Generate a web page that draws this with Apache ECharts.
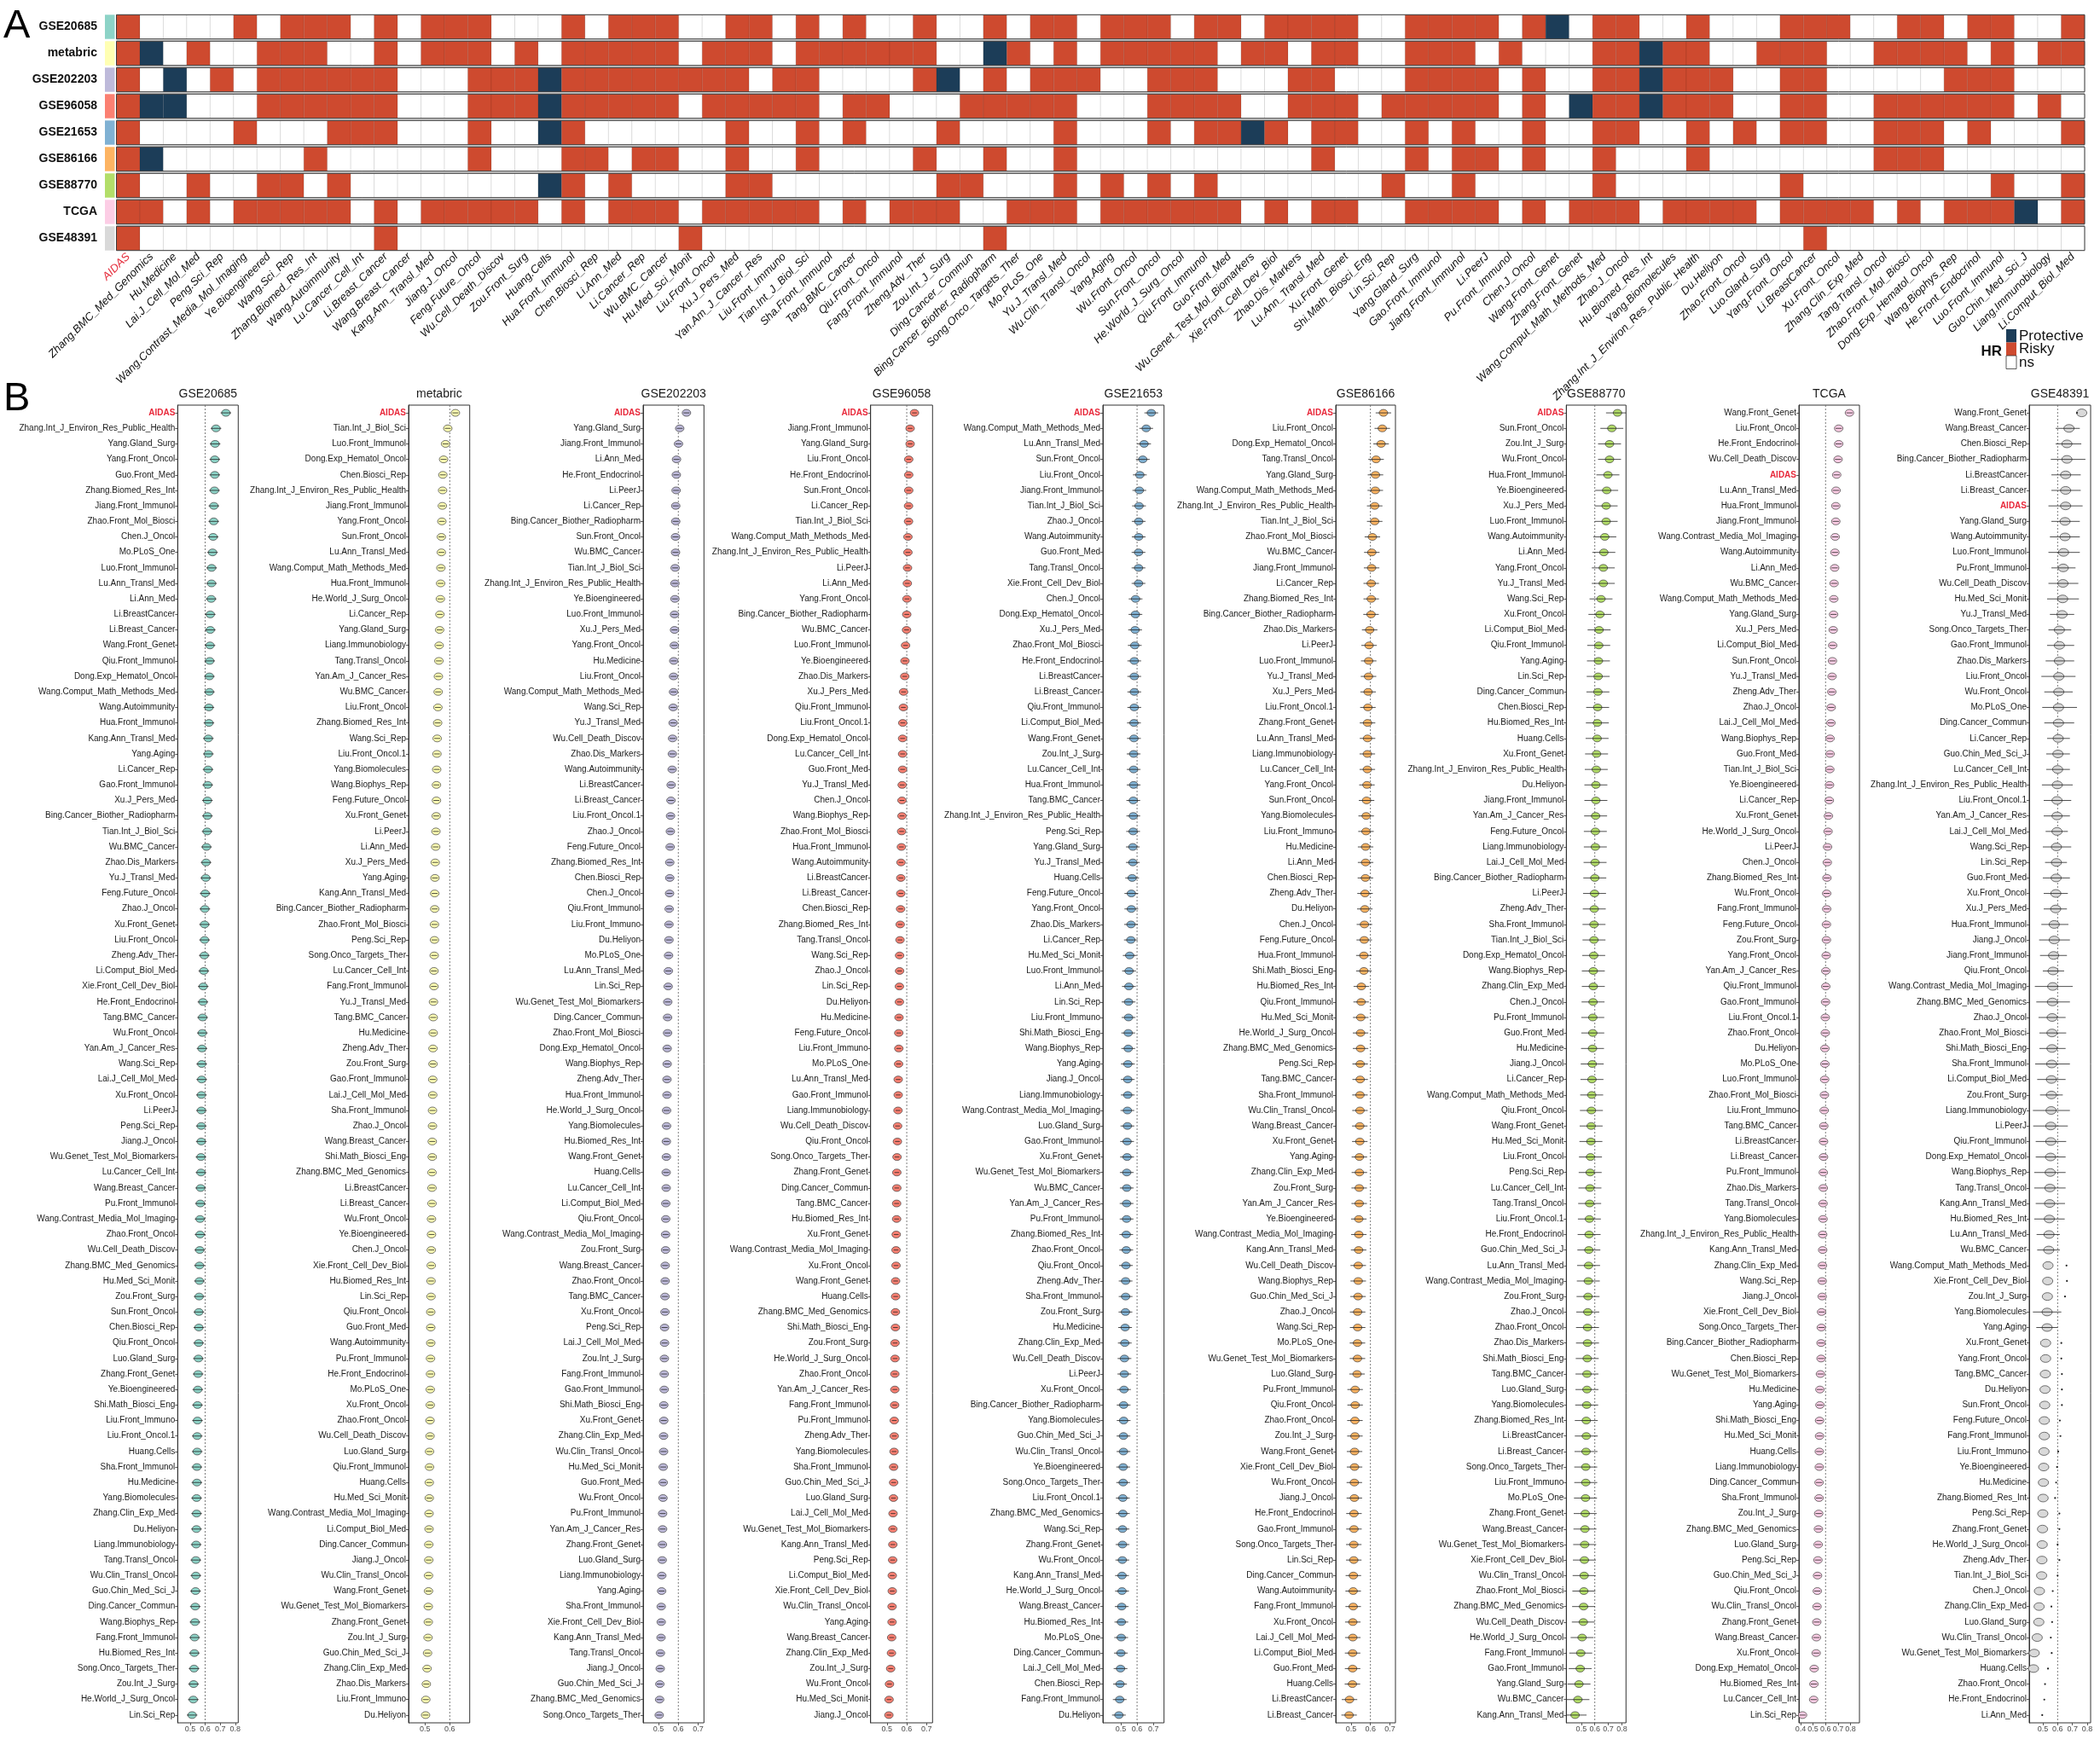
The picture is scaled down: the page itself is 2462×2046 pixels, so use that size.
<!DOCTYPE html>
<html>
<head>
<meta charset="utf-8">
<script src="https://cdn.jsdelivr.net/npm/echarts/dist/echarts.min.js"></script>
<style>html,body{margin:0;padding:0;background:#fff}#chart{width:2462px;height:2046px}</style>
</head>
<body>
<div id="chart"></div>
<script>
// ---------------- DATA ----------------
const datasets = ['GSE20685','metabric','GSE202203','GSE96058','GSE21653','GSE86166','GSE88770','TCGA','GSE48391'];
const datasetColors = ['#8DD3C7','#FFFFB3','#BEBADA','#FB8072','#80B1D3','#FDB462','#B3DE69','#FCCDE5','#D9D9D9'];

const heatmapSignatures = ['AIDAS','Zhang.BMC_Med_Genomics','Hu.Medicine','Lai.J_Cell_Mol_Med','Peng.Sci_Rep','Wang.Contrast_Media_Mol_Imaging','Ye.Bioengineered','Wang.Sci_Rep','Zhang.Biomed_Res_Int','Wang.Autoimmunity','Lu.Cancer_Cell_Int','Li.Breast_Cancer','Wang.Breast_Cancer','Kang.Ann_Transl_Med','Jiang.J_Oncol','Feng.Future_Oncol','Wu.Cell_Death_Discov','Zou.Front_Surg','Huang.Cells','Hua.Front_Immunol','Chen.Biosci_Rep','Li.Ann_Med','Li.Cancer_Rep','Wu.BMC_Cancer','Hu.Med_Sci_Monit','Liu.Front_Oncol','Xu.J_Pers_Med','Yan.Am_J_Cancer_Res','Liu.Front_Immuno','Tian.Int_J_Biol_Sci','Sha.Front_Immunol','Tang.BMC_Cancer','Qiu.Front_Oncol','Fang.Front_Immunol','Zheng.Adv_Ther','Zou.Int_J_Surg','Ding.Cancer_Commun','Bing.Cancer_Biother_Radiopharm','Song.Onco_Targets_Ther','Mo.PLoS_One','Yu.J_Transl_Med','Wu.Clin_Transl_Oncol','Yang.Aging','Wu.Front_Oncol','Sun.Front_Oncol','He.World_J_Surg_Oncol','Qiu.Front_Immunol','Guo.Front_Med','Wu.Genet_Test_Mol_Biomarkers','Xie.Front_Cell_Dev_Biol','Zhao.Dis_Markers','Lu.Ann_Transl_Med','Xu.Front_Genet','Shi.Math_Biosci_Eng','Lin.Sci_Rep','Yang.Gland_Surg','Gao.Front_Immunol','Jiang.Front_Immunol','Li.PeerJ','Pu.Front_Immunol','Chen.J_Oncol','Wang.Front_Genet','Zhang.Front_Genet','Wang.Comput_Math_Methods_Med','Zhao.J_Oncol','Hu.Biomed_Res_Int','Yang.Biomolecules','Zhang.Int_J_Environ_Res_Public_Health','Du.Heliyon','Zhao.Front_Oncol','Luo.Gland_Surg','Yang.Front_Oncol','Li.BreastCancer','Xu.Front_Oncol','Zhang.Clin_Exp_Med','Tang.Transl_Oncol','Zhao.Front_Mol_Biosci','Dong.Exp_Hematol_Oncol','Wang.Biophys_Rep','He.Front_Endocrinol','Luo.Front_Immunol','Guo.Chin_Med_Sci_J','Liang.Immunobiology','Li.Comput_Biol_Med'];

// HR status per dataset row (R = Risky, P = Protective, N = ns), one char per signature column
const hrStatus = [
 'RNNNNRNRRR'+'NRNRRRNNNR'+'NRRRNNRRNR'+'NRNNRNNRNR'+'RNRRRNRRNR'+'RRRNNRRRRN'+'RPNRRNNRNN'+'NRRRNNRRNR'+'RNNR',
 'RPNRNNRRRN'+'NRNRRRNRNR'+'RRRRNRRRNR'+'RRRRRNNPRN'+'RNRRRRRNRR'+'NRRNNRRRNR'+'NNNRRPRRNN'+'RRRNNRRRRN'+'RNRR',
 'RNPNRNRRRR'+'RRNNNRRRPR'+'RRRRRRRNRR'+'NNNNRPNRNR'+'RRNNRRRNNN'+'RRNNNRRRRN'+'RNNRRPRRRN'+'NRRNNNNNRR'+'RNNN',
 'RPPNNNRRRR'+'RRNNNRRRPR'+'RRRRNRRRRR'+'NRRNNNRRRR'+'RNNNRRRRNN'+'RRRNRRRRRN'+'RNPRRPRRRN'+'NRRNNRRRRR'+'RNRN',
 'RNNNNRNNNR'+'RRNNNRNNPR'+'NNNNNNRNNR'+'NRNNNRNNNN'+'RNNNRNRRPR'+'NRRNNRNRNN'+'RNNRRNNRNR'+'NRRNNRRRNR'+'NNNR',
 'RPNNNNNNRN'+'NNNNNRNNNR'+'RNRRNNRNNR'+'NNNNRNNRNN'+'RNNNNNNNNN'+'NRNNNRNRRN'+'RNNRNNNRNN'+'NNNNNRRRNN'+'NNNN',
 'RNNRNNRRNR'+'NNNNNNNNPR'+'NRNNNNRRNN'+'NNNNNRRNNN'+'RNRNRNRNNN'+'NNNNRNNRNN'+'NNNRNNNNNN'+'NRNNNNNNNN'+'RNNR',
 'RRNRNRRRRR'+'NRNRRRRRNR'+'NRRRNRRRRR'+'NRNRRRNNRR'+'RNRRRRRRNR'+'NRRNNRRRRN'+'RNRRRNRRRR'+'NRRRRNRNRR'+'RPNR',
 'RNNNNNNNNN'+'NRNNNNNNNN'+'NNNNRNNNNN'+'NNNNNNNRNN'+'NNNNNNNNNN'+'NNNNNNNNNN'+'NNNNNNNNNN'+'NNRNNNNNNN'+'NNNN'
];

// ---- Forest panels: signature order (top -> bottom) and C-index estimates ----
const namesGSE20685 = ['AIDAS','Zhang.Int_J_Environ_Res_Public_Health','Yang.Gland_Surg','Yang.Front_Oncol','Guo.Front_Med','Zhang.Biomed_Res_Int','Jiang.Front_Immunol','Zhao.Front_Mol_Biosci','Chen.J_Oncol','Mo.PLoS_One','Luo.Front_Immunol','Lu.Ann_Transl_Med','Li.Ann_Med','Li.BreastCancer','Li.Breast_Cancer','Wang.Front_Genet','Qiu.Front_Immunol','Dong.Exp_Hematol_Oncol','Wang.Comput_Math_Methods_Med','Wang.Autoimmunity','Hua.Front_Immunol','Kang.Ann_Transl_Med','Yang.Aging','Li.Cancer_Rep','Gao.Front_Immunol','Xu.J_Pers_Med','Bing.Cancer_Biother_Radiopharm','Tian.Int_J_Biol_Sci','Wu.BMC_Cancer','Zhao.Dis_Markers','Yu.J_Transl_Med','Feng.Future_Oncol','Zhao.J_Oncol','Xu.Front_Genet','Liu.Front_Oncol','Zheng.Adv_Ther','Li.Comput_Biol_Med','Xie.Front_Cell_Dev_Biol','He.Front_Endocrinol','Tang.BMC_Cancer','Wu.Front_Oncol','Yan.Am_J_Cancer_Res','Wang.Sci_Rep','Lai.J_Cell_Mol_Med','Xu.Front_Oncol','Li.PeerJ','Peng.Sci_Rep','Jiang.J_Oncol','Wu.Genet_Test_Mol_Biomarkers','Lu.Cancer_Cell_Int','Wang.Breast_Cancer','Pu.Front_Immunol','Wang.Contrast_Media_Mol_Imaging','Zhao.Front_Oncol','Wu.Cell_Death_Discov','Zhang.BMC_Med_Genomics','Hu.Med_Sci_Monit','Zou.Front_Surg','Sun.Front_Oncol','Chen.Biosci_Rep','Qiu.Front_Oncol','Luo.Gland_Surg','Zhang.Front_Genet','Ye.Bioengineered','Shi.Math_Biosci_Eng','Liu.Front_Immuno','Liu.Front_Oncol.1','Huang.Cells','Sha.Front_Immunol','Hu.Medicine','Yang.Biomolecules','Zhang.Clin_Exp_Med','Du.Heliyon','Liang.Immunobiology','Tang.Transl_Oncol','Wu.Clin_Transl_Oncol','Guo.Chin_Med_Sci_J','Ding.Cancer_Commun','Wang.Biophys_Rep','Fang.Front_Immunol','Hu.Biomed_Res_Int','Song.Onco_Targets_Ther','Zou.Int_J_Surg','He.World_J_Surg_Oncol','Lin.Sci_Rep'];
const estGSE20685 = [0.738,0.672,0.666,0.664,0.664,0.662,0.658,0.657,0.653,0.649,0.643,0.642,0.640,0.634,0.634,0.632,0.630,0.628,0.628,0.625,0.625,0.621,0.621,0.619,0.617,0.615,0.615,0.613,0.609,0.606,0.604,0.600,0.598,0.596,0.596,0.594,0.591,0.587,0.585,0.583,0.581,0.579,0.577,0.577,0.575,0.575,0.574,0.574,0.572,0.572,0.570,0.568,0.566,0.566,0.564,0.562,0.562,0.560,0.558,0.558,0.557,0.555,0.553,0.551,0.549,0.549,0.547,0.547,0.545,0.545,0.543,0.543,0.542,0.540,0.538,0.538,0.536,0.534,0.532,0.530,0.528,0.526,0.523,0.521,0.513];

const namesMetabric = ['AIDAS','Tian.Int_J_Biol_Sci','Luo.Front_Immunol','Dong.Exp_Hematol_Oncol','Chen.Biosci_Rep','Zhang.Int_J_Environ_Res_Public_Health','Jiang.Front_Immunol','Yang.Front_Oncol','Sun.Front_Oncol','Lu.Ann_Transl_Med','Wang.Comput_Math_Methods_Med','Hua.Front_Immunol','He.World_J_Surg_Oncol','Li.Cancer_Rep','Yang.Gland_Surg','Liang.Immunobiology','Tang.Transl_Oncol','Yan.Am_J_Cancer_Res','Wu.BMC_Cancer','Liu.Front_Oncol','Zhang.Biomed_Res_Int','Wang.Sci_Rep','Liu.Front_Oncol.1','Yang.Biomolecules','Wang.Biophys_Rep','Feng.Future_Oncol','Xu.Front_Genet','Li.PeerJ','Li.Ann_Med','Xu.J_Pers_Med','Yang.Aging','Kang.Ann_Transl_Med','Bing.Cancer_Biother_Radiopharm','Zhao.Front_Mol_Biosci','Peng.Sci_Rep','Song.Onco_Targets_Ther','Lu.Cancer_Cell_Int','Fang.Front_Immunol','Yu.J_Transl_Med','Tang.BMC_Cancer','Hu.Medicine','Zheng.Adv_Ther','Zou.Front_Surg','Gao.Front_Immunol','Lai.J_Cell_Mol_Med','Sha.Front_Immunol','Zhao.J_Oncol','Wang.Breast_Cancer','Shi.Math_Biosci_Eng','Zhang.BMC_Med_Genomics','Li.BreastCancer','Li.Breast_Cancer','Wu.Front_Oncol','Ye.Bioengineered','Chen.J_Oncol','Xie.Front_Cell_Dev_Biol','Hu.Biomed_Res_Int','Lin.Sci_Rep','Qiu.Front_Oncol','Guo.Front_Med','Wang.Autoimmunity','Pu.Front_Immunol','He.Front_Endocrinol','Mo.PLoS_One','Xu.Front_Oncol','Zhao.Front_Oncol','Wu.Cell_Death_Discov','Luo.Gland_Surg','Qiu.Front_Immunol','Huang.Cells','Hu.Med_Sci_Monit','Wang.Contrast_Media_Mol_Imaging','Li.Comput_Biol_Med','Ding.Cancer_Commun','Jiang.J_Oncol','Wu.Clin_Transl_Oncol','Wang.Front_Genet','Wu.Genet_Test_Mol_Biomarkers','Zhang.Front_Genet','Zou.Int_J_Surg','Guo.Chin_Med_Sci_J','Zhang.Clin_Exp_Med','Zhao.Dis_Markers','Liu.Front_Immuno','Du.Heliyon'];
const estMetabric = [0.623,0.592,0.583,0.575,0.572,0.571,0.570,0.568,0.566,0.566,0.564,0.563,0.562,0.560,0.559,0.557,0.556,0.554,0.553,0.552,0.551,0.549,0.548,0.547,0.546,0.546,0.545,0.544,0.543,0.541,0.540,0.539,0.539,0.538,0.538,0.537,0.536,0.536,0.534,0.533,0.533,0.532,0.532,0.531,0.531,0.530,0.530,0.529,0.529,0.528,0.528,0.528,0.526,0.526,0.525,0.525,0.524,0.524,0.523,0.523,0.523,0.522,0.522,0.521,0.521,0.520,0.520,0.518,0.518,0.517,0.517,0.516,0.516,0.515,0.515,0.514,0.514,0.513,0.513,0.512,0.510,0.508,0.505,0.503,0.502];

const namesGSE202203 = ['AIDAS','Yang.Gland_Surg','Jiang.Front_Immunol','Li.Ann_Med','He.Front_Endocrinol','Li.PeerJ','Li.Cancer_Rep','Bing.Cancer_Biother_Radiopharm','Sun.Front_Oncol','Wu.BMC_Cancer','Tian.Int_J_Biol_Sci','Zhang.Int_J_Environ_Res_Public_Health','Ye.Bioengineered','Luo.Front_Immunol','Xu.J_Pers_Med','Yang.Front_Oncol','Hu.Medicine','Liu.Front_Oncol','Wang.Comput_Math_Methods_Med','Wang.Sci_Rep','Yu.J_Transl_Med','Wu.Cell_Death_Discov','Zhao.Dis_Markers','Wang.Autoimmunity','Li.BreastCancer','Li.Breast_Cancer','Liu.Front_Oncol.1','Zhao.J_Oncol','Feng.Future_Oncol','Zhang.Biomed_Res_Int','Chen.Biosci_Rep','Chen.J_Oncol','Qiu.Front_Immunol','Liu.Front_Immuno','Du.Heliyon','Mo.PLoS_One','Lu.Ann_Transl_Med','Lin.Sci_Rep','Wu.Genet_Test_Mol_Biomarkers','Ding.Cancer_Commun','Zhao.Front_Mol_Biosci','Dong.Exp_Hematol_Oncol','Wang.Biophys_Rep','Zheng.Adv_Ther','Hua.Front_Immunol','He.World_J_Surg_Oncol','Yang.Biomolecules','Hu.Biomed_Res_Int','Wang.Front_Genet','Huang.Cells','Lu.Cancer_Cell_Int','Li.Comput_Biol_Med','Qiu.Front_Oncol','Wang.Contrast_Media_Mol_Imaging','Zou.Front_Surg','Wang.Breast_Cancer','Zhao.Front_Oncol','Tang.BMC_Cancer','Xu.Front_Oncol','Peng.Sci_Rep','Lai.J_Cell_Mol_Med','Zou.Int_J_Surg','Fang.Front_Immunol','Gao.Front_Immunol','Shi.Math_Biosci_Eng','Xu.Front_Genet','Zhang.Clin_Exp_Med','Wu.Clin_Transl_Oncol','Hu.Med_Sci_Monit','Guo.Front_Med','Wu.Front_Oncol','Pu.Front_Immunol','Yan.Am_J_Cancer_Res','Zhang.Front_Genet','Luo.Gland_Surg','Liang.Immunobiology','Yang.Aging','Sha.Front_Immunol','Xie.Front_Cell_Dev_Biol','Kang.Ann_Transl_Med','Tang.Transl_Oncol','Jiang.J_Oncol','Guo.Chin_Med_Sci_J','Zhang.BMC_Med_Genomics','Song.Onco_Targets_Ther'];
const estGSE202203 = [0.641,0.607,0.601,0.591,0.590,0.589,0.587,0.587,0.586,0.586,0.584,0.583,0.583,0.581,0.581,0.580,0.577,0.576,0.576,0.574,0.574,0.571,0.570,0.569,0.564,0.563,0.561,0.560,0.559,0.557,0.557,0.556,0.554,0.553,0.553,0.551,0.550,0.549,0.547,0.546,0.546,0.544,0.544,0.543,0.543,0.541,0.541,0.540,0.540,0.539,0.539,0.537,0.537,0.536,0.536,0.534,0.534,0.533,0.533,0.531,0.531,0.530,0.529,0.529,0.527,0.527,0.526,0.526,0.524,0.524,0.523,0.521,0.521,0.520,0.519,0.517,0.516,0.514,0.514,0.513,0.510,0.509,0.507,0.506,0.504];

const namesGSE96058 = ['AIDAS','Jiang.Front_Immunol','Yang.Gland_Surg','Liu.Front_Oncol','He.Front_Endocrinol','Sun.Front_Oncol','Li.Cancer_Rep','Tian.Int_J_Biol_Sci','Wang.Comput_Math_Methods_Med','Zhang.Int_J_Environ_Res_Public_Health','Li.PeerJ','Li.Ann_Med','Yang.Front_Oncol','Bing.Cancer_Biother_Radiopharm','Wu.BMC_Cancer','Luo.Front_Immunol','Ye.Bioengineered','Zhao.Dis_Markers','Xu.J_Pers_Med','Qiu.Front_Immunol','Liu.Front_Oncol.1','Dong.Exp_Hematol_Oncol','Lu.Cancer_Cell_Int','Guo.Front_Med','Yu.J_Transl_Med','Chen.J_Oncol','Wang.Biophys_Rep','Zhao.Front_Mol_Biosci','Hua.Front_Immunol','Wang.Autoimmunity','Li.BreastCancer','Li.Breast_Cancer','Chen.Biosci_Rep','Zhang.Biomed_Res_Int','Tang.Transl_Oncol','Wang.Sci_Rep','Zhao.J_Oncol','Lin.Sci_Rep','Du.Heliyon','Hu.Medicine','Feng.Future_Oncol','Liu.Front_Immuno','Mo.PLoS_One','Lu.Ann_Transl_Med','Gao.Front_Immunol','Liang.Immunobiology','Wu.Cell_Death_Discov','Qiu.Front_Oncol','Song.Onco_Targets_Ther','Zhang.Front_Genet','Ding.Cancer_Commun','Tang.BMC_Cancer','Hu.Biomed_Res_Int','Xu.Front_Genet','Wang.Contrast_Media_Mol_Imaging','Xu.Front_Oncol','Wang.Front_Genet','Huang.Cells','Zhang.BMC_Med_Genomics','Shi.Math_Biosci_Eng','Zou.Front_Surg','He.World_J_Surg_Oncol','Zhao.Front_Oncol','Yan.Am_J_Cancer_Res','Fang.Front_Immunol','Pu.Front_Immunol','Zheng.Adv_Ther','Yang.Biomolecules','Sha.Front_Immunol','Guo.Chin_Med_Sci_J','Luo.Gland_Surg','Lai.J_Cell_Mol_Med','Wu.Genet_Test_Mol_Biomarkers','Kang.Ann_Transl_Med','Peng.Sci_Rep','Li.Comput_Biol_Med','Xie.Front_Cell_Dev_Biol','Wu.Clin_Transl_Oncol','Yang.Aging','Wang.Breast_Cancer','Zhang.Clin_Exp_Med','Zou.Int_J_Surg','Wu.Front_Oncol','Hu.Med_Sci_Monit','Jiang.J_Oncol'];
const estGSE96058 = [0.639,0.617,0.617,0.610,0.610,0.610,0.609,0.609,0.606,0.606,0.604,0.603,0.601,0.600,0.599,0.594,0.591,0.590,0.584,0.583,0.580,0.579,0.579,0.579,0.577,0.576,0.576,0.574,0.573,0.571,0.570,0.570,0.569,0.567,0.566,0.564,0.564,0.563,0.563,0.561,0.560,0.560,0.559,0.557,0.557,0.556,0.554,0.553,0.551,0.550,0.550,0.549,0.549,0.547,0.546,0.546,0.544,0.544,0.543,0.543,0.541,0.541,0.540,0.540,0.539,0.537,0.537,0.536,0.534,0.534,0.533,0.531,0.530,0.530,0.529,0.527,0.527,0.526,0.526,0.524,0.523,0.519,0.513,0.511,0.510];

const namesGSE21653 = ['AIDAS','Wang.Comput_Math_Methods_Med','Lu.Ann_Transl_Med','Sun.Front_Oncol','Liu.Front_Oncol','Jiang.Front_Immunol','Tian.Int_J_Biol_Sci','Zhao.J_Oncol','Wang.Autoimmunity','Guo.Front_Med','Tang.Transl_Oncol','Xie.Front_Cell_Dev_Biol','Chen.J_Oncol','Dong.Exp_Hematol_Oncol','Xu.J_Pers_Med','Zhao.Front_Mol_Biosci','He.Front_Endocrinol','Li.BreastCancer','Li.Breast_Cancer','Qiu.Front_Immunol','Li.Comput_Biol_Med','Wang.Front_Genet','Zou.Int_J_Surg','Lu.Cancer_Cell_Int','Hua.Front_Immunol','Tang.BMC_Cancer','Zhang.Int_J_Environ_Res_Public_Health','Peng.Sci_Rep','Yang.Gland_Surg','Yu.J_Transl_Med','Huang.Cells','Feng.Future_Oncol','Yang.Front_Oncol','Zhao.Dis_Markers','Li.Cancer_Rep','Hu.Med_Sci_Monit','Luo.Front_Immunol','Li.Ann_Med','Lin.Sci_Rep','Liu.Front_Immuno','Shi.Math_Biosci_Eng','Wang.Biophys_Rep','Yang.Aging','Jiang.J_Oncol','Liang.Immunobiology','Wang.Contrast_Media_Mol_Imaging','Luo.Gland_Surg','Gao.Front_Immunol','Xu.Front_Genet','Wu.Genet_Test_Mol_Biomarkers','Wu.BMC_Cancer','Yan.Am_J_Cancer_Res','Pu.Front_Immunol','Zhang.Biomed_Res_Int','Zhao.Front_Oncol','Qiu.Front_Oncol','Zheng.Adv_Ther','Sha.Front_Immunol','Zou.Front_Surg','Hu.Medicine','Zhang.Clin_Exp_Med','Wu.Cell_Death_Discov','Li.PeerJ','Xu.Front_Oncol','Bing.Cancer_Biother_Radiopharm','Yang.Biomolecules','Guo.Chin_Med_Sci_J','Wu.Clin_Transl_Oncol','Ye.Bioengineered','Song.Onco_Targets_Ther','Liu.Front_Oncol.1','Zhang.BMC_Med_Genomics','Wang.Sci_Rep','Zhang.Front_Genet','Wu.Front_Oncol','Kang.Ann_Transl_Med','He.World_J_Surg_Oncol','Wang.Breast_Cancer','Hu.Biomed_Res_Int','Mo.PLoS_One','Ding.Cancer_Commun','Lai.J_Cell_Mol_Med','Chen.Biosci_Rep','Fang.Front_Immunol','Du.Heliyon'];
const estGSE21653 = [0.687,0.656,0.643,0.635,0.617,0.614,0.612,0.610,0.610,0.609,0.609,0.609,0.591,0.590,0.588,0.586,0.583,0.583,0.583,0.583,0.581,0.581,0.579,0.579,0.579,0.577,0.577,0.576,0.574,0.574,0.570,0.565,0.565,0.563,0.562,0.555,0.551,0.550,0.548,0.548,0.546,0.546,0.544,0.543,0.543,0.541,0.541,0.539,0.539,0.537,0.537,0.536,0.536,0.534,0.534,0.532,0.530,0.530,0.529,0.527,0.525,0.523,0.522,0.520,0.518,0.518,0.517,0.517,0.515,0.515,0.513,0.513,0.511,0.511,0.510,0.508,0.508,0.506,0.504,0.503,0.501,0.499,0.496,0.494,0.489];

const namesGSE86166 = ['AIDAS','Liu.Front_Oncol','Dong.Exp_Hematol_Oncol','Tang.Transl_Oncol','Yang.Gland_Surg','Wang.Comput_Math_Methods_Med','Zhang.Int_J_Environ_Res_Public_Health','Tian.Int_J_Biol_Sci','Zhao.Front_Mol_Biosci','Wu.BMC_Cancer','Jiang.Front_Immunol','Li.Cancer_Rep','Zhang.Biomed_Res_Int','Bing.Cancer_Biother_Radiopharm','Zhao.Dis_Markers','Li.PeerJ','Luo.Front_Immunol','Yu.J_Transl_Med','Xu.J_Pers_Med','Liu.Front_Oncol.1','Zhang.Front_Genet','Lu.Ann_Transl_Med','Liang.Immunobiology','Lu.Cancer_Cell_Int','Yang.Front_Oncol','Sun.Front_Oncol','Yang.Biomolecules','Liu.Front_Immuno','Hu.Medicine','Li.Ann_Med','Chen.Biosci_Rep','Zheng.Adv_Ther','Du.Heliyon','Chen.J_Oncol','Feng.Future_Oncol','Hua.Front_Immunol','Shi.Math_Biosci_Eng','Hu.Biomed_Res_Int','Qiu.Front_Immunol','Hu.Med_Sci_Monit','He.World_J_Surg_Oncol','Zhang.BMC_Med_Genomics','Peng.Sci_Rep','Tang.BMC_Cancer','Sha.Front_Immunol','Wu.Clin_Transl_Oncol','Wang.Breast_Cancer','Xu.Front_Genet','Yang.Aging','Zhang.Clin_Exp_Med','Zou.Front_Surg','Yan.Am_J_Cancer_Res','Ye.Bioengineered','Wang.Contrast_Media_Mol_Imaging','Kang.Ann_Transl_Med','Wu.Cell_Death_Discov','Wang.Biophys_Rep','Guo.Chin_Med_Sci_J','Zhao.J_Oncol','Wang.Sci_Rep','Mo.PLoS_One','Wu.Genet_Test_Mol_Biomarkers','Luo.Gland_Surg','Pu.Front_Immunol','Qiu.Front_Oncol','Zhao.Front_Oncol','Zou.Int_J_Surg','Wang.Front_Genet','Xie.Front_Cell_Dev_Biol','Wu.Front_Oncol','Jiang.J_Oncol','He.Front_Endocrinol','Gao.Front_Immunol','Song.Onco_Targets_Ther','Lin.Sci_Rep','Ding.Cancer_Commun','Wang.Autoimmunity','Fang.Front_Immunol','Xu.Front_Oncol','Lai.J_Cell_Mol_Med','Li.Comput_Biol_Med','Guo.Front_Med','Huang.Cells','Li.BreastCancer','Li.Breast_Cancer'];
const estGSE86166 = [0.667,0.661,0.655,0.629,0.626,0.625,0.622,0.622,0.610,0.607,0.606,0.604,0.604,0.603,0.596,0.593,0.591,0.590,0.588,0.587,0.585,0.585,0.584,0.584,0.582,0.580,0.578,0.577,0.575,0.575,0.574,0.572,0.571,0.569,0.568,0.566,0.566,0.553,0.552,0.550,0.549,0.549,0.547,0.547,0.546,0.546,0.545,0.545,0.543,0.543,0.542,0.542,0.540,0.540,0.539,0.537,0.537,0.536,0.534,0.534,0.533,0.533,0.531,0.521,0.521,0.520,0.520,0.518,0.518,0.517,0.517,0.515,0.515,0.514,0.514,0.512,0.511,0.511,0.509,0.509,0.508,0.508,0.507,0.492,0.490];

const namesGSE88770 = ['AIDAS','Sun.Front_Oncol','Zou.Int_J_Surg','Wu.Front_Oncol','Hua.Front_Immunol','Ye.Bioengineered','Xu.J_Pers_Med','Luo.Front_Immunol','Wang.Autoimmunity','Li.Ann_Med','Yang.Front_Oncol','Yu.J_Transl_Med','Wang.Sci_Rep','Xu.Front_Oncol','Li.Comput_Biol_Med','Qiu.Front_Immunol','Yang.Aging','Lin.Sci_Rep','Ding.Cancer_Commun','Chen.Biosci_Rep','Hu.Biomed_Res_Int','Huang.Cells','Xu.Front_Genet','Zhang.Int_J_Environ_Res_Public_Health','Du.Heliyon','Jiang.Front_Immunol','Yan.Am_J_Cancer_Res','Feng.Future_Oncol','Liang.Immunobiology','Lai.J_Cell_Mol_Med','Bing.Cancer_Biother_Radiopharm','Li.PeerJ','Zheng.Adv_Ther','Sha.Front_Immunol','Tian.Int_J_Biol_Sci','Dong.Exp_Hematol_Oncol','Wang.Biophys_Rep','Zhang.Clin_Exp_Med','Chen.J_Oncol','Pu.Front_Immunol','Guo.Front_Med','Hu.Medicine','Jiang.J_Oncol','Li.Cancer_Rep','Wang.Comput_Math_Methods_Med','Qiu.Front_Oncol','Wang.Front_Genet','Hu.Med_Sci_Monit','Liu.Front_Oncol','Peng.Sci_Rep','Lu.Cancer_Cell_Int','Tang.Transl_Oncol','Liu.Front_Oncol.1','He.Front_Endocrinol','Guo.Chin_Med_Sci_J','Lu.Ann_Transl_Med','Wang.Contrast_Media_Mol_Imaging','Zou.Front_Surg','Zhao.J_Oncol','Zhao.Front_Oncol','Zhao.Dis_Markers','Shi.Math_Biosci_Eng','Tang.BMC_Cancer','Luo.Gland_Surg','Yang.Biomolecules','Zhang.Biomed_Res_Int','Li.BreastCancer','Li.Breast_Cancer','Song.Onco_Targets_Ther','Liu.Front_Immuno','Mo.PLoS_One','Zhang.Front_Genet','Wang.Breast_Cancer','Wu.Genet_Test_Mol_Biomarkers','Xie.Front_Cell_Dev_Biol','Wu.Clin_Transl_Oncol','Zhao.Front_Mol_Biosci','Zhang.BMC_Med_Genomics','Wu.Cell_Death_Discov','He.World_J_Surg_Oncol','Fang.Front_Immunol','Gao.Front_Immunol','Yang.Gland_Surg','Wu.BMC_Cancer','Kang.Ann_Transl_Med'];
const estGSE88770 = [0.768,0.726,0.709,0.709,0.697,0.688,0.684,0.684,0.674,0.667,0.663,0.663,0.646,0.638,0.632,0.629,0.627,0.625,0.623,0.621,0.619,0.617,0.613,0.611,0.608,0.608,0.606,0.604,0.604,0.602,0.600,0.598,0.596,0.594,0.594,0.592,0.589,0.589,0.587,0.585,0.585,0.583,0.581,0.579,0.577,0.575,0.573,0.571,0.568,0.566,0.564,0.562,0.560,0.558,0.556,0.554,0.552,0.550,0.548,0.546,0.546,0.544,0.542,0.542,0.540,0.537,0.537,0.535,0.533,0.533,0.531,0.529,0.527,0.525,0.523,0.521,0.519,0.517,0.515,0.506,0.496,0.492,0.483,0.475,0.454];

const namesTCGA = ['Wang.Front_Genet','Liu.Front_Oncol','He.Front_Endocrinol','Wu.Cell_Death_Discov','AIDAS','Lu.Ann_Transl_Med','Hua.Front_Immunol','Jiang.Front_Immunol','Wang.Contrast_Media_Mol_Imaging','Wang.Autoimmunity','Li.Ann_Med','Wu.BMC_Cancer','Wang.Comput_Math_Methods_Med','Yang.Gland_Surg','Xu.J_Pers_Med','Li.Comput_Biol_Med','Sun.Front_Oncol','Yu.J_Transl_Med','Zheng.Adv_Ther','Zhao.J_Oncol','Lai.J_Cell_Mol_Med','Wang.Biophys_Rep','Guo.Front_Med','Tian.Int_J_Biol_Sci','Ye.Bioengineered','Li.Cancer_Rep','Xu.Front_Genet','He.World_J_Surg_Oncol','Li.PeerJ','Chen.J_Oncol','Zhang.Biomed_Res_Int','Wu.Front_Oncol','Fang.Front_Immunol','Feng.Future_Oncol','Zou.Front_Surg','Yang.Front_Oncol','Yan.Am_J_Cancer_Res','Qiu.Front_Immunol','Gao.Front_Immunol','Liu.Front_Oncol.1','Zhao.Front_Oncol','Du.Heliyon','Mo.PLoS_One','Luo.Front_Immunol','Zhao.Front_Mol_Biosci','Liu.Front_Immuno','Tang.BMC_Cancer','Li.BreastCancer','Li.Breast_Cancer','Pu.Front_Immunol','Zhao.Dis_Markers','Tang.Transl_Oncol','Yang.Biomolecules','Zhang.Int_J_Environ_Res_Public_Health','Kang.Ann_Transl_Med','Zhang.Clin_Exp_Med','Wang.Sci_Rep','Jiang.J_Oncol','Xie.Front_Cell_Dev_Biol','Song.Onco_Targets_Ther','Bing.Cancer_Biother_Radiopharm','Chen.Biosci_Rep','Wu.Genet_Test_Mol_Biomarkers','Hu.Medicine','Yang.Aging','Shi.Math_Biosci_Eng','Hu.Med_Sci_Monit','Huang.Cells','Liang.Immunobiology','Ding.Cancer_Commun','Sha.Front_Immunol','Zou.Int_J_Surg','Zhang.BMC_Med_Genomics','Luo.Gland_Surg','Peng.Sci_Rep','Guo.Chin_Med_Sci_J','Qiu.Front_Oncol','Wu.Clin_Transl_Oncol','Zhang.Front_Genet','Wang.Breast_Cancer','Xu.Front_Oncol','Dong.Exp_Hematol_Oncol','Hu.Biomed_Res_Int','Lu.Cancer_Cell_Int','Lin.Sci_Rep'];
const estTCGA = [0.791,0.705,0.705,0.700,0.689,0.684,0.682,0.682,0.677,0.675,0.673,0.668,0.666,0.664,0.661,0.657,0.655,0.652,0.650,0.645,0.643,0.636,0.636,0.634,0.632,0.630,0.623,0.620,0.616,0.614,0.611,0.609,0.609,0.607,0.607,0.605,0.602,0.602,0.600,0.598,0.598,0.595,0.595,0.593,0.591,0.589,0.586,0.584,0.584,0.582,0.582,0.580,0.580,0.577,0.577,0.575,0.573,0.573,0.568,0.566,0.564,0.564,0.559,0.555,0.555,0.552,0.552,0.550,0.550,0.548,0.548,0.545,0.543,0.541,0.539,0.536,0.534,0.532,0.530,0.527,0.525,0.509,0.507,0.505,0.416];

const namesGSE48391 = ['Wang.Front_Genet','Wang.Breast_Cancer','Chen.Biosci_Rep','Bing.Cancer_Biother_Radiopharm','Li.BreastCancer','Li.Breast_Cancer','AIDAS','Yang.Gland_Surg','Wang.Autoimmunity','Luo.Front_Immunol','Pu.Front_Immunol','Wu.Cell_Death_Discov','Hu.Med_Sci_Monit','Yu.J_Transl_Med','Song.Onco_Targets_Ther','Gao.Front_Immunol','Zhao.Dis_Markers','Liu.Front_Oncol','Wu.Front_Oncol','Mo.PLoS_One','Ding.Cancer_Commun','Li.Cancer_Rep','Guo.Chin_Med_Sci_J','Lu.Cancer_Cell_Int','Zhang.Int_J_Environ_Res_Public_Health','Liu.Front_Oncol.1','Yan.Am_J_Cancer_Res','Lai.J_Cell_Mol_Med','Wang.Sci_Rep','Lin.Sci_Rep','Guo.Front_Med','Xu.Front_Oncol','Xu.J_Pers_Med','Hua.Front_Immunol','Jiang.J_Oncol','Jiang.Front_Immunol','Qiu.Front_Oncol','Wang.Contrast_Media_Mol_Imaging','Zhang.BMC_Med_Genomics','Zhao.J_Oncol','Zhao.Front_Mol_Biosci','Shi.Math_Biosci_Eng','Sha.Front_Immunol','Li.Comput_Biol_Med','Zou.Front_Surg','Liang.Immunobiology','Li.PeerJ','Qiu.Front_Immunol','Dong.Exp_Hematol_Oncol','Wang.Biophys_Rep','Tang.Transl_Oncol','Kang.Ann_Transl_Med','Hu.Biomed_Res_Int','Lu.Ann_Transl_Med','Wu.BMC_Cancer','Wang.Comput_Math_Methods_Med','Xie.Front_Cell_Dev_Biol','Zou.Int_J_Surg','Yang.Biomolecules','Yang.Aging','Xu.Front_Genet','Yang.Front_Oncol','Tang.BMC_Cancer','Du.Heliyon','Sun.Front_Oncol','Feng.Future_Oncol','Fang.Front_Immunol','Liu.Front_Immuno','Ye.Bioengineered','Hu.Medicine','Zhang.Biomed_Res_Int','Peng.Sci_Rep','Zhang.Front_Genet','He.World_J_Surg_Oncol','Zheng.Adv_Ther','Tian.Int_J_Biol_Sci','Chen.J_Oncol','Zhang.Clin_Exp_Med','Luo.Gland_Surg','Wu.Clin_Transl_Oncol','Wu.Genet_Test_Mol_Biomarkers','Huang.Cells','Zhao.Front_Oncol','He.Front_Endocrinol','Li.Ann_Med'];
// null = outside the plotted range in the reference
const estGSE48391 = [0.763,0.677,0.663,0.663,0.654,0.654,0.654,0.650,0.650,0.640,0.638,0.636,0.634,0.630,0.612,0.612,0.612,0.608,0.608,0.606,0.606,0.604,0.602,0.600,0.598,0.596,0.596,0.596,0.592,0.592,0.590,0.588,0.587,0.577,0.577,0.573,0.569,0.567,0.565,0.563,0.562,0.562,0.560,0.558,0.558,0.556,0.554,0.554,0.552,0.550,0.548,0.546,0.544,0.542,0.540,0.535,0.533,0.531,0.529,0.529,0.519,0.519,0.517,0.515,0.513,0.510,0.510,0.508,0.506,0.504,0.502,0.500,0.498,0.496,0.494,0.492,0.477,0.475,0.473,0.462,0.442,0.437,null,null,null];
const loGSE48391 = [0.731,0.587,0.587,0.554,0.558,0.558,0.538,0.558,0.548,0.538,0.558,0.538,0.529,0.548,0.538,0.529,0.519,0.490,0.510,0.496,0.510,0.529,0.523,0.523,0.494,0.506,0.506,0.519,0.500,0.515,0.500,0.506,0.506,0.490,0.475,0.481,0.500,0.446,0.456,0.471,0.477,0.477,0.448,0.462,0.481,0.433,0.435,0.452,0.452,0.442,0.442,0.452,0.442,0.458,0.462,null,null,null,0.433,0.456,null,null,null,null,null,null,null,null,null,null,null,null,null,null,null,null,null,null,null,null,null,null,null,null,null];
const hiGSE48391 = [null,0.750,0.760,0.788,0.756,0.756,0.769,0.750,0.750,0.750,0.721,0.740,0.744,0.712,0.692,0.712,0.712,0.721,0.702,0.731,0.712,0.683,0.683,0.683,0.702,0.692,0.683,0.669,0.692,0.663,0.683,0.669,0.663,0.673,0.683,0.663,0.644,0.702,0.683,0.654,0.658,0.654,0.683,0.654,0.635,0.683,0.669,0.658,0.654,0.654,0.654,0.650,0.648,0.615,0.615,0.660,0.663,0.650,0.625,0.600,0.625,0.625,0.629,0.629,0.629,0.615,0.619,0.604,0.596,0.590,0.583,0.612,0.612,0.600,0.612,0.600,0.567,0.558,0.563,0.554,0.560,0.535,0.515,0.510,0.496];

// approximate 95% CI half-width read per panel (panels 1-8)
const ciHalfWidth = [0.035, 0.012, 0.015, 0.012, 0.042, 0.040, 0.085, 0.025];
const xTicks = [[0.5,0.6,0.7,0.8],[0.5,0.6],[0.5,0.6,0.7],[0.5,0.6,0.7],[0.5,0.6,0.7],[0.5,0.6,0.7],[0.5,0.6,0.7,0.8],[0.4,0.5,0.6,0.7,0.8],[0.5,0.6,0.7,0.8]];
const refLine = 0.6;

// ---------------- LAYOUT / STYLE ----------------
const FONT = '"Liberation Sans", Arial, Helvetica, sans-serif';
const HR_COLORS = ['#FFFFFF', '#CE4A2F', '#1C3D58']; // ns, Risky, Protective
const CODE = {N: 0, R: 1, P: 2};
const ROW_GAP = 2.6;
const FOREST_TOP = 475, FOREST_H = 1545;
const layout = [
  {left: 208.3, right: 279.3, min: 0.417, max: 0.820},
  {left: 479.0, right: 550.7, min: 0.433, max: 0.681},
  {left: 754.0, right: 825.3, min: 0.423, max: 0.729},
  {left: 1020.7, right: 1093.3, min: 0.418, max: 0.730},
  {left: 1293.0, right: 1364.7, min: 0.391, max: 0.765},
  {left: 1566.0, right: 1636.0, min: 0.421, max: 0.729},
  {left: 1836.3, right: 1906.3, min: 0.389, max: 0.831},
  {left: 2109.0, right: 2180.0, min: 0.387, max: 0.871},
  {left: 2379.0, right: 2451.0, min: 0.408, max: 0.823}
];

const panelNames = [namesGSE20685, namesMetabric, namesGSE202203, namesGSE96058, namesGSE21653, namesGSE86166, namesGSE88770, namesTCGA, namesGSE48391];
const panelEst = [estGSE20685, estMetabric, estGSE202203, estGSE96058, estGSE21653, estGSE86166, estGSE88770, estTCGA, estGSE48391];

// ---------------- BUILD OPTION ----------------
const chart = echarts.init(document.getElementById('chart'), null, {renderer: 'canvas', width: 2462, height: 2046});
const grids = [], xAxes = [], yAxes = [], series = [], graphics = [];

// Heatmap (panel A)
const HM = {left: 136.5, top: 16, width: 2307.5, height: 279};
grids.push({left: HM.left, top: HM.top, width: HM.width, height: HM.height, show: false, containLabel: false, outerBoundsMode: 'none'});
xAxes.push({
  type: 'category', gridIndex: 0, data: heatmapSignatures, position: 'bottom',
  axisLine: {show: false}, axisTick: {show: false}, splitLine: {show: false},
  axisLabel: {
    interval: 0, rotate: 45, margin: 4, fontSize: 13, fontStyle: 'italic', fontFamily: FONT, color: '#111',
    formatter: v => v === 'AIDAS' ? '{r|AIDAS}' : v,
    rich: {r: {color: '#E5303F', fontStyle: 'italic', fontSize: 13, fontFamily: FONT}}
  }
});
yAxes.push({
  type: 'category', gridIndex: 0, data: datasets, inverse: true,
  axisLine: {show: false}, axisTick: {show: false}, splitLine: {show: false},
  axisLabel: {margin: 22.5, fontSize: 14, fontWeight: 'bold', fontFamily: FONT, color: '#111'}
});
const cellData = [];
hrStatus.forEach((s, r) => { for (let c = 0; c < s.length; c++) cellData.push([c, r, CODE[s[c]]]); });
series.push({
  type: 'custom', xAxisIndex: 0, yAxisIndex: 0, data: cellData, silent: true, z: 2,
  renderItem(params, api) {
    const p = api.coord([api.value(0), api.value(1)]);
    const bw = api.size([1, 0])[0], bh = api.size([0, 1])[1];
    const h = bh - ROW_GAP;
    return {type: 'rect', shape: {x: p[0] - bw / 2, y: p[1] - h / 2, width: bw, height: h},
      style: {fill: HR_COLORS[api.value(2)], stroke: 'rgba(0,0,0,0.17)', lineWidth: 0.6}};
  }
});
series.push({
  type: 'custom', xAxisIndex: 0, yAxisIndex: 0, data: datasets.map((d, i) => [0, i]), silent: true, z: 3,
  renderItem(params, api) {
    const r = api.value(1);
    const p0 = api.coord([0, r]), p1 = api.coord([heatmapSignatures.length - 1, r]);
    const bw = api.size([1, 0])[0], bh = api.size([0, 1])[1];
    const h = bh - ROW_GAP;
    const x0 = p0[0] - bw / 2, x1 = p1[0] + bw / 2, y0 = p0[1] - h / 2;
    const children = [
      {type: 'rect', shape: {x: x0, y: y0, width: x1 - x0, height: h}, style: {fill: 'none', stroke: '#3a3a3a', lineWidth: 1}},
      {type: 'rect', shape: {x: x0 - 13.5, y: y0, width: 11.5, height: h}, style: {fill: datasetColors[r]}}
    ];
    if (r < datasets.length - 1) {
      children.push({type: 'rect', shape: {x: x0, y: y0 + h + 0.5, width: x1 - x0, height: ROW_GAP - 1}, style: {fill: '#b9b9b9'}});
    }
    return {type: 'group', children};
  }
});

// Forest panels (panel B)
panelNames.forEach((names, i) => {
  const gi = i + 1, L = layout[i], est = panelEst[i];
  const color = datasetColors[i];
  const oneSidedDots = (i === 8);
  grids.push({left: L.left, top: FOREST_TOP, width: L.right - L.left, height: FOREST_H, show: true,
    borderColor: '#333', borderWidth: 1, backgroundColor: '#fff', containLabel: false, outerBoundsMode: 'none'});
  xAxes.push({
    type: 'value', gridIndex: gi, min: L.min, max: L.max,
    axisLine: {show: false}, splitLine: {show: false},
    axisTick: {show: true, length: 3, lineStyle: {color: '#333', width: 0.8}, customValues: xTicks[i]},
    axisLabel: {show: true, customValues: xTicks[i], fontSize: 9, color: '#4d4d4d', margin: 3, fontFamily: FONT,
      formatter: v => Number(v).toFixed(1)}
  });
  yAxes.push({
    type: 'category', gridIndex: gi, data: names, inverse: true,
    axisLine: {show: true, lineStyle: {color: '#333', width: 1}},
    axisTick: {show: true, alignWithLabel: true, length: 3, lineStyle: {color: '#333', width: 0.8}},
    splitLine: {show: false},
    axisLabel: {interval: 0, fontSize: 10, color: '#1a1a1a', margin: 3, fontFamily: FONT,
      formatter: v => v === 'AIDAS' ? '{a|AIDAS}' : v,
      rich: {a: {color: '#E8293B', fontWeight: 'bold', fontSize: 10, fontFamily: FONT}}}
  });
  // reference dashed line
  series.push({
    type: 'custom', xAxisIndex: gi, yAxisIndex: gi, data: [[refLine, 0]], silent: true, z: 1,
    renderItem(params, api) {
      const cs = params.coordSys;
      const x = api.coord([api.value(0), 0])[0];
      return {type: 'line', shape: {x1: x, y1: cs.y, x2: x, y2: cs.y + cs.height},
        style: {stroke: '#6e6e6e', lineWidth: 0.9, lineDash: [2, 2]}};
    }
  });
  // points
  const pts = [];
  est.forEach((v, k) => { if (v != null) pts.push([v, k]); });
  series.push({
    type: 'scatter', xAxisIndex: gi, yAxisIndex: gi, data: pts, clip: true, silent: true, z: 2,
    symbol: 'circle', symbolSize: i === 8 ? [12, 9] : [10, 8],
    itemStyle: {color: color, borderColor: '#3a3a3a', borderWidth: 0.7, opacity: 1}
  });
  // error bars
  const eb = [];
  names.forEach((n, k) => {
    let lo, hi;
    if (i === 8) { lo = loGSE48391[k]; hi = hiGSE48391[k]; }
    else { lo = est[k] - ciHalfWidth[i]; hi = est[k] + ciHalfWidth[i]; }
    eb.push([lo == null ? -1 : lo, hi == null ? -1 : hi, k]);
  });
  series.push({
    type: 'custom', xAxisIndex: gi, yAxisIndex: gi, data: eb, silent: true, z: 3,
    encode: {x: [0, 1], y: 2},
    renderItem(params, api) {
      const lo = api.value(0), hi = api.value(1);
      const k = api.value(2);
      const line = (a, b) => {
        const p = api.coord([Math.max(a, L.min), k]), q = api.coord([Math.min(b, L.max), k]);
        return {type: 'line', shape: {x1: p[0], y1: p[1], x2: q[0], y2: q[1]}, style: {stroke: '#222', lineWidth: 0.8}};
      };
      if (!oneSidedDots) return line(lo, hi);
      const hasLo = lo >= 0 && lo >= L.min, hasHi = hi >= 0 && hi <= L.max;
      if (hasLo && hasHi) return line(lo, hi);
      if (!hasLo && !hasHi) return null;
      const c = api.coord([hasLo ? lo : hi, k]);
      return {type: 'circle', shape: {cx: c[0], cy: c[1], r: 1.1}, style: {fill: '#222'}};
    }
  });
  // panel title
  graphics.push({type: 'text', x: (L.left + L.right) / 2, y: 462, silent: true,
    style: {text: datasets[i], fill: '#1a1a1a', fontSize: 14, fontFamily: FONT, align: 'center', verticalAlign: 'middle', textAlign: 'center', textVerticalAlign: 'middle'}});
});

// Panel letters
graphics.push({type: 'text', x: 4, y: 31, silent: true,
  style: {text: 'A', fill: '#000', fontSize: 47, fontFamily: FONT, align: 'left', verticalAlign: 'middle', textAlign: 'left', textVerticalAlign: 'middle'}});
graphics.push({type: 'text', x: 4, y: 468, silent: true,
  style: {text: 'B', fill: '#000', fontSize: 47, fontFamily: FONT, align: 'left', verticalAlign: 'middle', textAlign: 'left', textVerticalAlign: 'middle'}});

// HR legend
const legendItems = [['Protective', HR_COLORS[2]], ['Risky', HR_COLORS[1]], ['ns', HR_COLORS[0]]];
legendItems.forEach((it, j) => {
  const y = 386 + j * 15.5;
  graphics.push({type: 'rect', silent: true, shape: {x: 2352, y: y, width: 12, height: 15.5},
    style: {fill: it[1], stroke: j === 2 ? '#333' : null, lineWidth: j === 2 ? 0.8 : 0}});
  graphics.push({type: 'text', x: 2367, y: y + 8, silent: true,
    style: {text: it[0], fill: '#111', fontSize: 17, fontFamily: FONT, align: 'left', verticalAlign: 'middle', textAlign: 'left', textVerticalAlign: 'middle'}});
});
graphics.push({type: 'text', x: 2347, y: 412, silent: true,
  style: {text: 'HR', fill: '#111', fontSize: 17, fontWeight: 'bold', fontFamily: FONT, align: 'right', verticalAlign: 'middle', textAlign: 'right', textVerticalAlign: 'middle'}});

chart.setOption({
  animation: false,
  backgroundColor: '#ffffff',
  textStyle: {fontFamily: FONT},
  grid: grids, xAxis: xAxes, yAxis: yAxes, series: series,
  graphic: {elements: graphics}
});
</script>
</body>
</html>
